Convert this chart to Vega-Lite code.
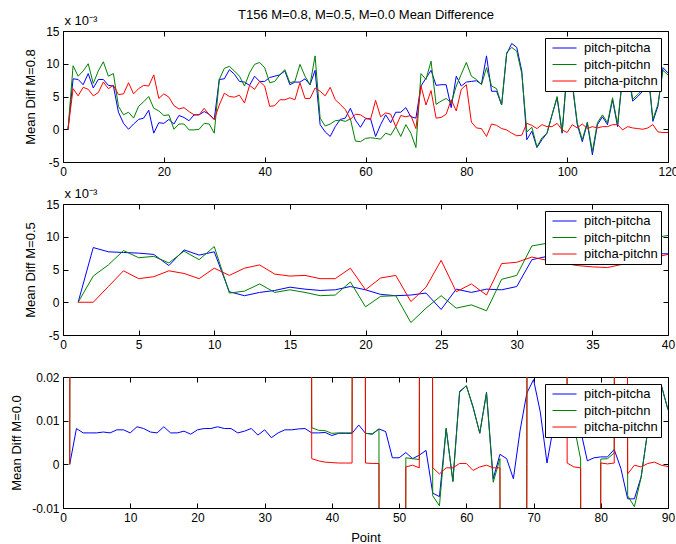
{
"$schema": "https://vega.github.io/schema/vega-lite/v6.json",
"padding": {"left": 10, "top": 8, "right": 0, "bottom": 0},
"config": {
 "font": "Liberation Sans",
 "view": {"stroke": null},
 "axis": {"grid": false, "domainColor": "#000000", "tickColor": "#000000", "labelColor": "#000000", "titleColor": "#000000", "labelFont": "Liberation Sans", "titleFont": "Liberation Sans", "labelFontSize": 12, "titleFontSize": 13, "titleFontWeight": "normal", "tickSize": -5, "labelPadding": 9, "labelFlush": false, "labelOverlap": false, "titlePadding": 8, "domainWidth": 1, "tickWidth": 1},
 "legend": {"orient": "top-right", "offset": 7, "strokeColor": "#000000", "fillColor": "#ffffff", "padding": 3, "symbolType": "stroke", "symbolSize": 576, "symbolStrokeWidth": 1, "symbolOffset": 4, "labelFont": "Liberation Sans", "labelFontSize": 13, "labelColor": "#000000", "labelOffset": 7, "rowPadding": 2.5, "clipHeight": 14}
},
"datasets": {
 "p1": [
{"x":1,"pitch-pitcha":0,"pitch-pitchn":0,"pitcha-pitchn":0},
{"x":2,"pitch-pitcha":7.7,"pitch-pitchn":9.7,"pitcha-pitchn":6.2},
{"x":3,"pitch-pitcha":7.6,"pitch-pitchn":8.1,"pitcha-pitchn":5.1},
{"x":4,"pitch-pitcha":6.8,"pitch-pitchn":8.9,"pitcha-pitchn":6.4},
{"x":5,"pitch-pitcha":8.5,"pitch-pitchn":10.0,"pitcha-pitchn":6.1},
{"x":6,"pitch-pitcha":6.3,"pitch-pitchn":7.0,"pitcha-pitchn":5.1},
{"x":7,"pitch-pitcha":7.6,"pitch-pitchn":8.9,"pitcha-pitchn":5.6},
{"x":8,"pitch-pitcha":7.6,"pitch-pitchn":10.3,"pitcha-pitchn":7.2},
{"x":9,"pitch-pitcha":6.7,"pitch-pitchn":8.1,"pitcha-pitchn":6.2},
{"x":10,"pitch-pitcha":6.6,"pitch-pitchn":8.5,"pitcha-pitchn":6.7},
{"x":11,"pitch-pitcha":2.6,"pitch-pitchn":3.5,"pitcha-pitchn":5.3},
{"x":12,"pitch-pitcha":0.9,"pitch-pitchn":2.2,"pitcha-pitchn":5.4},
{"x":13,"pitch-pitcha":0,"pitch-pitchn":2.6,"pitcha-pitchn":7.1},
{"x":14,"pitch-pitcha":0.8,"pitch-pitchn":1.7,"pitcha-pitchn":5.4},
{"x":15,"pitch-pitcha":1.5,"pitch-pitchn":3.5,"pitcha-pitchn":6.2},
{"x":16,"pitch-pitcha":1.7,"pitch-pitchn":4.2,"pitcha-pitchn":6.7},
{"x":17,"pitch-pitcha":2.9,"pitch-pitchn":5.0,"pitcha-pitchn":6.6},
{"x":18,"pitch-pitcha":-0.6,"pitch-pitchn":3.2,"pitcha-pitchn":8.3},
{"x":19,"pitch-pitcha":1.0,"pitch-pitchn":2.8,"pitcha-pitchn":4.7},
{"x":20,"pitch-pitcha":0.9,"pitch-pitchn":2.1,"pitcha-pitchn":5.4},
{"x":21,"pitch-pitcha":1.5,"pitch-pitchn":2.2,"pitcha-pitchn":4.9},
{"x":22,"pitch-pitcha":0.8,"pitch-pitchn":0,"pitcha-pitchn":3.6},
{"x":23,"pitch-pitcha":2.1,"pitch-pitchn":0.8,"pitcha-pitchn":3.1},
{"x":24,"pitch-pitcha":1.8,"pitch-pitchn":0.8,"pitcha-pitchn":3.3},
{"x":25,"pitch-pitcha":1.3,"pitch-pitchn":-0.1,"pitcha-pitchn":2.7},
{"x":26,"pitch-pitcha":2.2,"pitch-pitchn":-0.1,"pitcha-pitchn":2.2},
{"x":27,"pitch-pitcha":2.2,"pitch-pitchn":0,"pitcha-pitchn":2.2},
{"x":28,"pitch-pitcha":2.7,"pitch-pitchn":0.9,"pitcha-pitchn":3.2},
{"x":29,"pitch-pitcha":2.3,"pitch-pitchn":0.8,"pitcha-pitchn":2.2},
{"x":30,"pitch-pitcha":1.5,"pitch-pitchn":-0.6,"pitcha-pitchn":1.5},
{"x":31,"pitch-pitcha":7.6,"pitch-pitchn":7.6,"pitcha-pitchn":3.7},
{"x":32,"pitch-pitcha":7.7,"pitch-pitchn":9.3,"pitcha-pitchn":5.5},
{"x":33,"pitch-pitcha":9.1,"pitch-pitchn":9.6,"pitcha-pitchn":5.0},
{"x":34,"pitch-pitcha":8.4,"pitch-pitchn":8.9,"pitcha-pitchn":4.9},
{"x":35,"pitch-pitcha":7.3,"pitch-pitchn":8.1,"pitcha-pitchn":5.2},
{"x":36,"pitch-pitcha":7.2,"pitch-pitchn":6.6,"pitcha-pitchn":4.0},
{"x":37,"pitch-pitcha":6.7,"pitch-pitchn":8.6,"pitcha-pitchn":6.7},
{"x":38,"pitch-pitcha":8.1,"pitch-pitchn":9.9,"pitcha-pitchn":6.1},
{"x":39,"pitch-pitcha":7.3,"pitch-pitchn":10.2,"pitcha-pitchn":7.3},
{"x":40,"pitch-pitcha":7.3,"pitch-pitchn":9.4,"pitcha-pitchn":6.6},
{"x":41,"pitch-pitcha":7.9,"pitch-pitchn":7.1,"pitcha-pitchn":3.5},
{"x":42,"pitch-pitcha":8.1,"pitch-pitchn":7.3,"pitcha-pitchn":3.6},
{"x":43,"pitch-pitcha":8.3,"pitch-pitchn":8.3,"pitcha-pitchn":4.5},
{"x":44,"pitch-pitcha":8.9,"pitch-pitchn":9.1,"pitcha-pitchn":4.5},
{"x":45,"pitch-pitcha":6.8,"pitch-pitchn":7.1,"pitcha-pitchn":4.8},
{"x":46,"pitch-pitcha":7.2,"pitch-pitchn":7.3,"pitcha-pitchn":4.5},
{"x":47,"pitch-pitcha":7.2,"pitch-pitchn":9.9,"pitcha-pitchn":7.1},
{"x":48,"pitch-pitcha":7.7,"pitch-pitchn":8.1,"pitcha-pitchn":4.7},
{"x":49,"pitch-pitcha":6.8,"pitch-pitchn":6.8,"pitcha-pitchn":4.7},
{"x":50,"pitch-pitcha":9.0,"pitch-pitchn":11.2,"pitcha-pitchn":6.3},
{"x":51,"pitch-pitcha":0.7,"pitch-pitchn":1.7,"pitcha-pitchn":5.8},
{"x":52,"pitch-pitcha":-0.4,"pitch-pitchn":0.5,"pitcha-pitchn":5.1},
{"x":53,"pitch-pitcha":-1.1,"pitch-pitchn":0.8,"pitcha-pitchn":6.4},
{"x":54,"pitch-pitcha":0.4,"pitch-pitchn":1.3,"pitcha-pitchn":4.5},
{"x":55,"pitch-pitcha":1.5,"pitch-pitchn":1.4,"pitcha-pitchn":3.8},
{"x":56,"pitch-pitcha":1.7,"pitch-pitchn":1.2,"pitcha-pitchn":3.0},
{"x":57,"pitch-pitcha":3.2,"pitch-pitchn":1.6,"pitcha-pitchn":1.5},
{"x":58,"pitch-pitcha":1.4,"pitch-pitchn":-1.8,"pitcha-pitchn":2.3},
{"x":59,"pitch-pitcha":0.3,"pitch-pitchn":-1.9,"pitcha-pitchn":2.2},
{"x":60,"pitch-pitcha":1.6,"pitch-pitchn":-1.4,"pitcha-pitchn":1.7},
{"x":61,"pitch-pitcha":1.6,"pitch-pitchn":-1.3,"pitcha-pitchn":1.5},
{"x":62,"pitch-pitcha":-1.1,"pitch-pitchn":-1.4,"pitcha-pitchn":4.4},
{"x":63,"pitch-pitcha":0.7,"pitch-pitchn":-1.5,"pitcha-pitchn":1.9},
{"x":64,"pitch-pitcha":2.2,"pitch-pitchn":-0.6,"pitcha-pitchn":2.5},
{"x":65,"pitch-pitcha":1.0,"pitch-pitchn":-0.9,"pitcha-pitchn":2.3},
{"x":66,"pitch-pitcha":2.6,"pitch-pitchn":0.4,"pitcha-pitchn":0.4},
{"x":67,"pitch-pitcha":2.6,"pitch-pitchn":-1.1,"pitcha-pitchn":2.1},
{"x":68,"pitch-pitcha":3.3,"pitch-pitchn":0.7,"pitcha-pitchn":1.9},
{"x":69,"pitch-pitcha":1.9,"pitch-pitchn":-0.6,"pitcha-pitchn":2.1},
{"x":70,"pitch-pitcha":1.7,"pitch-pitchn":-2.8,"pitcha-pitchn":0.1},
{"x":71,"pitch-pitcha":6.6,"pitch-pitchn":8.5,"pitcha-pitchn":6.6},
{"x":72,"pitch-pitcha":7.8,"pitch-pitchn":7.6,"pitcha-pitchn":3.7},
{"x":73,"pitch-pitcha":9.0,"pitch-pitchn":10.4,"pitcha-pitchn":5.9},
{"x":74,"pitch-pitcha":6.7,"pitch-pitchn":3.8,"pitcha-pitchn":1.7},
{"x":75,"pitch-pitcha":6.8,"pitch-pitchn":4.3,"pitcha-pitchn":1.8},
{"x":76,"pitch-pitcha":6.8,"pitch-pitchn":4.7,"pitcha-pitchn":2.3},
{"x":77,"pitch-pitcha":3.3,"pitch-pitchn":4.0,"pitcha-pitchn":4.5},
{"x":78,"pitch-pitcha":8.1,"pitch-pitchn":6.6,"pitcha-pitchn":2.8},
{"x":79,"pitch-pitcha":6.6,"pitch-pitchn":8.4,"pitcha-pitchn":6.1},
{"x":80,"pitch-pitcha":7.2,"pitch-pitchn":10.2,"pitcha-pitchn":6.8},
{"x":81,"pitch-pitcha":7.3,"pitch-pitchn":8.1,"pitcha-pitchn":1.1},
{"x":82,"pitch-pitcha":7.4,"pitch-pitchn":7.6,"pitcha-pitchn":0.2},
{"x":83,"pitch-pitcha":6.9,"pitch-pitchn":6.8,"pitcha-pitchn":0.1},
{"x":84,"pitch-pitcha":11.2,"pitch-pitchn":9.4,"pitcha-pitchn":-1.1},
{"x":85,"pitch-pitcha":5.8,"pitch-pitchn":6.6,"pitcha-pitchn":0.8},
{"x":86,"pitch-pitcha":5.8,"pitch-pitchn":6.2,"pitcha-pitchn":0.6},
{"x":87,"pitch-pitcha":3.7,"pitch-pitchn":3.7,"pitcha-pitchn":0.1},
{"x":88,"pitch-pitcha":11.5,"pitch-pitchn":11.7,"pitcha-pitchn":-0.1},
{"x":89,"pitch-pitcha":13.1,"pitch-pitchn":12.5,"pitcha-pitchn":-0.6},
{"x":90,"pitch-pitcha":12.5,"pitch-pitchn":11.9,"pitcha-pitchn":-1.0},
{"x":91,"pitch-pitcha":8.9,"pitch-pitchn":8.5,"pitcha-pitchn":-0.9},
{"x":92,"pitch-pitcha":-1.6,"pitch-pitchn":-0.4,"pitcha-pitchn":0.9},
{"x":93,"pitch-pitcha":-0.3,"pitch-pitchn":0.3,"pitcha-pitchn":0.6},
{"x":94,"pitch-pitcha":-2.8,"pitch-pitchn":-2.7,"pitcha-pitchn":0.1},
{"x":95,"pitch-pitcha":-1.6,"pitch-pitchn":-1.3,"pitcha-pitchn":0.7},
{"x":96,"pitch-pitcha":-0.6,"pitch-pitchn":-0.6,"pitcha-pitchn":0.4},
{"x":97,"pitch-pitcha":2.2,"pitch-pitchn":2.2,"pitcha-pitchn":0.4},
{"x":98,"pitch-pitcha":4.8,"pitch-pitchn":5.0,"pitcha-pitchn":0.9},
{"x":99,"pitch-pitcha":-0.6,"pitch-pitchn":-0.4,"pitcha-pitchn":-0.1},
{"x":100,"pitch-pitcha":9.0,"pitch-pitchn":9.3,"pitcha-pitchn":-0.5},
{"x":101,"pitch-pitcha":7.0,"pitch-pitchn":7.2,"pitcha-pitchn":0.7},
{"x":102,"pitch-pitcha":0.7,"pitch-pitchn":1.0,"pitcha-pitchn":0.2},
{"x":103,"pitch-pitcha":-1.9,"pitch-pitchn":-1.6,"pitcha-pitchn":0.8},
{"x":104,"pitch-pitcha":0.9,"pitch-pitchn":1.1,"pitcha-pitchn":0.1},
{"x":105,"pitch-pitcha":-3.9,"pitch-pitchn":-3.4,"pitcha-pitchn":0.4},
{"x":106,"pitch-pitcha":0.7,"pitch-pitchn":1.0,"pitcha-pitchn":0.2},
{"x":107,"pitch-pitcha":1.9,"pitch-pitchn":2.2,"pitcha-pitchn":0.4},
{"x":108,"pitch-pitcha":0.7,"pitch-pitchn":1.0,"pitcha-pitchn":0.4},
{"x":109,"pitch-pitcha":4.5,"pitch-pitchn":4.8,"pitcha-pitchn":0.7},
{"x":110,"pitch-pitcha":0.4,"pitch-pitchn":0.7,"pitcha-pitchn":0.7},
{"x":111,"pitch-pitcha":8.1,"pitch-pitchn":8.4,"pitcha-pitchn":-0.1},
{"x":112,"pitch-pitcha":9.0,"pitch-pitchn":9.3,"pitcha-pitchn":0.4},
{"x":113,"pitch-pitcha":4.3,"pitch-pitchn":4.6,"pitcha-pitchn":0.2},
{"x":114,"pitch-pitcha":5.0,"pitch-pitchn":5.3,"pitcha-pitchn":0.1},
{"x":115,"pitch-pitcha":5.8,"pitch-pitchn":6.1,"pitcha-pitchn":0},
{"x":116,"pitch-pitcha":9.1,"pitch-pitchn":9.4,"pitcha-pitchn":0.2},
{"x":117,"pitch-pitcha":1.2,"pitch-pitchn":1.5,"pitcha-pitchn":0.7},
{"x":118,"pitch-pitcha":3.5,"pitch-pitchn":3.8,"pitcha-pitchn":-0.4},
{"x":119,"pitch-pitcha":9.4,"pitch-pitchn":9.0,"pitcha-pitchn":-0.5},
{"x":120,"pitch-pitcha":8.6,"pitch-pitchn":8.3,"pitcha-pitchn":-0.5}
 ],
 "p2": [
{"x":1,"pitch-pitcha":0,"pitch-pitchn":0,"pitcha-pitchn":0},
{"x":2,"pitch-pitcha":8.35,"pitch-pitchn":4.0,"pitcha-pitchn":0},
{"x":3,"pitch-pitcha":7.7,"pitch-pitchn":5.7,"pitcha-pitchn":2.4},
{"x":4,"pitch-pitcha":7.6,"pitch-pitchn":7.9,"pitcha-pitchn":4.8},
{"x":5,"pitch-pitcha":7.5,"pitch-pitchn":6.8,"pitcha-pitchn":3.6},
{"x":6,"pitch-pitcha":7.3,"pitch-pitchn":7.0,"pitcha-pitchn":3.9},
{"x":7,"pitch-pitcha":5.6,"pitch-pitchn":6.0,"pitcha-pitchn":4.8},
{"x":8,"pitch-pitcha":8.0,"pitch-pitchn":7.8,"pitcha-pitchn":4.4},
{"x":9,"pitch-pitcha":7.2,"pitch-pitchn":6.5,"pitcha-pitchn":3.6},
{"x":10,"pitch-pitcha":7.7,"pitch-pitchn":8.5,"pitcha-pitchn":5.2},
{"x":11,"pitch-pitcha":1.6,"pitch-pitchn":1.4,"pitcha-pitchn":4.1},
{"x":12,"pitch-pitcha":1.0,"pitch-pitchn":1.7,"pitcha-pitchn":5.2},
{"x":13,"pitch-pitcha":1.5,"pitch-pitchn":2.8,"pitcha-pitchn":5.7},
{"x":14,"pitch-pitcha":1.8,"pitch-pitchn":1.5,"pitcha-pitchn":4.3},
{"x":15,"pitch-pitcha":2.3,"pitch-pitchn":1.9,"pitcha-pitchn":4.0},
{"x":16,"pitch-pitcha":2.0,"pitch-pitchn":1.5,"pitcha-pitchn":4.1},
{"x":17,"pitch-pitcha":1.8,"pitch-pitchn":1.0,"pitcha-pitchn":3.6},
{"x":18,"pitch-pitcha":1.9,"pitch-pitchn":1.1,"pitcha-pitchn":3.6},
{"x":19,"pitch-pitcha":2.4,"pitch-pitchn":3.1,"pitcha-pitchn":5.2},
{"x":20,"pitch-pitcha":1.9,"pitch-pitchn":-0.7,"pitcha-pitchn":1.9},
{"x":21,"pitch-pitcha":1.2,"pitch-pitchn":0.9,"pitcha-pitchn":3.7},
{"x":22,"pitch-pitcha":1.0,"pitch-pitchn":1.0,"pitcha-pitchn":4.1},
{"x":23,"pitch-pitcha":1.1,"pitch-pitchn":-3.1,"pitcha-pitchn":0.1},
{"x":24,"pitch-pitcha":1.4,"pitch-pitchn":-0.9,"pitcha-pitchn":2.3},
{"x":25,"pitch-pitcha":-1.1,"pitch-pitchn":1.0,"pitcha-pitchn":6.4},
{"x":26,"pitch-pitcha":2.0,"pitch-pitchn":-0.9,"pitcha-pitchn":1.6},
{"x":27,"pitch-pitcha":1.5,"pitch-pitchn":-0.4,"pitcha-pitchn":2.8},
{"x":28,"pitch-pitcha":2.0,"pitch-pitchn":-1.3,"pitcha-pitchn":1.1},
{"x":29,"pitch-pitcha":1.9,"pitch-pitchn":3.5,"pitcha-pitchn":5.9},
{"x":30,"pitch-pitcha":2.4,"pitch-pitchn":4.1,"pitcha-pitchn":6.1},
{"x":31,"pitch-pitcha":6.5,"pitch-pitchn":8.6,"pitcha-pitchn":6.9},
{"x":32,"pitch-pitcha":7.0,"pitch-pitchn":9.0,"pitcha-pitchn":6.4},
{"x":33,"pitch-pitcha":7.2,"pitch-pitchn":8.6,"pitcha-pitchn":6.0},
{"x":34,"pitch-pitcha":7.3,"pitch-pitchn":8.4,"pitcha-pitchn":5.6},
{"x":35,"pitch-pitcha":7.3,"pitch-pitchn":8.2,"pitcha-pitchn":5.4},
{"x":36,"pitch-pitcha":7.2,"pitch-pitchn":8.5,"pitcha-pitchn":5.3},
{"x":37,"pitch-pitcha":7.3,"pitch-pitchn":8.8,"pitcha-pitchn":5.8},
{"x":38,"pitch-pitcha":7.3,"pitch-pitchn":9.2,"pitcha-pitchn":6.5},
{"x":39,"pitch-pitcha":7.4,"pitch-pitchn":9.8,"pitcha-pitchn":6.8},
{"x":40,"pitch-pitcha":7.4,"pitch-pitchn":10.2,"pitcha-pitchn":7.3}
 ],
 "p3": [
{"x":1,"pitch-pitcha":0,"pitch-pitchn":0,"pitcha-pitchn":0},
{"x":2,"pitch-pitcha":0.0082,"pitch-pitchn":1,"pitcha-pitchn":1},
{"x":3,"pitch-pitcha":0.0072,"pitch-pitchn":1,"pitcha-pitchn":1},
{"x":4,"pitch-pitcha":0.0072,"pitch-pitchn":1,"pitcha-pitchn":1},
{"x":5,"pitch-pitcha":0.0072,"pitch-pitchn":1,"pitcha-pitchn":1},
{"x":6,"pitch-pitcha":0.0074,"pitch-pitchn":1,"pitcha-pitchn":1},
{"x":7,"pitch-pitcha":0.0072,"pitch-pitchn":1,"pitcha-pitchn":1},
{"x":8,"pitch-pitcha":0.0079,"pitch-pitchn":1,"pitcha-pitchn":1},
{"x":9,"pitch-pitcha":0.0079,"pitch-pitchn":1,"pitcha-pitchn":1},
{"x":10,"pitch-pitcha":0.0072,"pitch-pitchn":1,"pitcha-pitchn":1},
{"x":11,"pitch-pitcha":0.0086,"pitch-pitchn":1,"pitcha-pitchn":1},
{"x":12,"pitch-pitcha":0.0082,"pitch-pitchn":1,"pitcha-pitchn":1},
{"x":13,"pitch-pitcha":0.0074,"pitch-pitchn":1,"pitcha-pitchn":1},
{"x":14,"pitch-pitcha":0.0072,"pitch-pitchn":1,"pitcha-pitchn":1},
{"x":15,"pitch-pitcha":0.0086,"pitch-pitchn":1,"pitcha-pitchn":1},
{"x":16,"pitch-pitcha":0.0072,"pitch-pitchn":1,"pitcha-pitchn":1},
{"x":17,"pitch-pitcha":0.0072,"pitch-pitchn":1,"pitcha-pitchn":1},
{"x":18,"pitch-pitcha":0.0076,"pitch-pitchn":1,"pitcha-pitchn":1},
{"x":19,"pitch-pitcha":0.0069,"pitch-pitchn":1,"pitcha-pitchn":1},
{"x":20,"pitch-pitcha":0.0079,"pitch-pitchn":1,"pitcha-pitchn":1},
{"x":21,"pitch-pitcha":0.0082,"pitch-pitchn":1,"pitcha-pitchn":1},
{"x":22,"pitch-pitcha":0.0082,"pitch-pitchn":1,"pitcha-pitchn":1},
{"x":23,"pitch-pitcha":0.0086,"pitch-pitchn":1,"pitcha-pitchn":1},
{"x":24,"pitch-pitcha":0.0082,"pitch-pitchn":1,"pitcha-pitchn":1},
{"x":25,"pitch-pitcha":0.0082,"pitch-pitchn":1,"pitcha-pitchn":1},
{"x":26,"pitch-pitcha":0.0072,"pitch-pitchn":1,"pitcha-pitchn":1},
{"x":27,"pitch-pitcha":0.0076,"pitch-pitchn":1,"pitcha-pitchn":1},
{"x":28,"pitch-pitcha":0.0082,"pitch-pitchn":1,"pitcha-pitchn":1},
{"x":29,"pitch-pitcha":0.0067,"pitch-pitchn":1,"pitcha-pitchn":1},
{"x":30,"pitch-pitcha":0.0079,"pitch-pitchn":1,"pitcha-pitchn":1},
{"x":31,"pitch-pitcha":0.0061,"pitch-pitchn":1,"pitcha-pitchn":1},
{"x":32,"pitch-pitcha":0.0072,"pitch-pitchn":1,"pitcha-pitchn":1},
{"x":33,"pitch-pitcha":0.0079,"pitch-pitchn":1,"pitcha-pitchn":1},
{"x":34,"pitch-pitcha":0.0079,"pitch-pitchn":1,"pitcha-pitchn":1},
{"x":35,"pitch-pitcha":0.0081,"pitch-pitchn":1,"pitcha-pitchn":1},
{"x":36,"pitch-pitcha":0.0082,"pitch-pitchn":1,"pitcha-pitchn":1},
{"x":37,"pitch-pitcha":0.0072,"pitch-pitchn":0.0084,"pitcha-pitchn":0.0013},
{"x":38,"pitch-pitcha":0.0072,"pitch-pitchn":0.0078,"pitcha-pitchn":0.0008},
{"x":39,"pitch-pitcha":0.0073,"pitch-pitchn":0.0077,"pitcha-pitchn":0.0005},
{"x":40,"pitch-pitcha":0.0066,"pitch-pitchn":0.0071,"pitcha-pitchn":0.0004},
{"x":41,"pitch-pitcha":0.0071,"pitch-pitchn":0.0072,"pitcha-pitchn":0.0003},
{"x":42,"pitch-pitcha":0.0071,"pitch-pitchn":0.0072,"pitcha-pitchn":0.0003},
{"x":43,"pitch-pitcha":0.0071,"pitch-pitchn":0.0072,"pitcha-pitchn":0.0003},
{"x":44,"pitch-pitcha":0.0090,"pitch-pitchn":1,"pitcha-pitchn":1},
{"x":45,"pitch-pitcha":0.0071,"pitch-pitchn":0.0071,"pitcha-pitchn":0.0003},
{"x":46,"pitch-pitcha":0.0069,"pitch-pitchn":0.0070,"pitcha-pitchn":0.0002},
{"x":47,"pitch-pitcha":0.0081,"pitch-pitchn":0.0081,"pitcha-pitchn":0.0002},
{"x":48,"pitch-pitcha":0.0075,"pitch-pitchn":-1,"pitcha-pitchn":-1},
{"x":49,"pitch-pitcha":0.0015,"pitch-pitchn":-1,"pitcha-pitchn":-1},
{"x":50,"pitch-pitcha":0.0015,"pitch-pitchn":-1,"pitcha-pitchn":-1},
{"x":51,"pitch-pitcha":0.0027,"pitch-pitchn":0.0015,"pitcha-pitchn":-0.0006},
{"x":52,"pitch-pitcha":0.0013,"pitch-pitchn":0.0013,"pitcha-pitchn":-0.0002},
{"x":53,"pitch-pitcha":0.0021,"pitch-pitchn":0.0011,"pitcha-pitchn":-0.0008},
{"x":54,"pitch-pitcha":0.0032,"pitch-pitchn":1,"pitcha-pitchn":1},
{"x":55,"pitch-pitcha":-0.0066,"pitch-pitchn":-0.0072,"pitcha-pitchn":-0.0008},
{"x":56,"pitch-pitcha":-0.0074,"pitch-pitchn":-0.0095,"pitcha-pitchn":-0.0022},
{"x":57,"pitch-pitcha":0.0082,"pitch-pitchn":0.0082,"pitcha-pitchn":-0.0008},
{"x":58,"pitch-pitcha":-0.0038,"pitch-pitchn":-0.0040,"pitcha-pitchn":-0.0008},
{"x":59,"pitch-pitcha":0.0167,"pitch-pitchn":0.0165,"pitcha-pitchn":0.0002},
{"x":60,"pitch-pitcha":0.0180,"pitch-pitchn":0.0180,"pitcha-pitchn":0.0002},
{"x":61,"pitch-pitcha":0.0132,"pitch-pitchn":0.0130,"pitcha-pitchn":-0.0014},
{"x":62,"pitch-pitcha":0.0071,"pitch-pitchn":0.0072,"pitcha-pitchn":-0.0006},
{"x":63,"pitch-pitcha":0.0165,"pitch-pitchn":0.0163,"pitcha-pitchn":-0.0002},
{"x":64,"pitch-pitcha":-0.0033,"pitch-pitchn":-0.0041,"pitcha-pitchn":-0.0008},
{"x":65,"pitch-pitcha":0.0023,"pitch-pitchn":0.0013,"pitcha-pitchn":-0.0008},
{"x":66,"pitch-pitcha":0.0013,"pitch-pitchn":-1,"pitcha-pitchn":-1},
{"x":67,"pitch-pitcha":-0.0033,"pitch-pitchn":-1,"pitcha-pitchn":-1},
{"x":68,"pitch-pitcha":0.0078,"pitch-pitchn":-1,"pitcha-pitchn":-1},
{"x":69,"pitch-pitcha":0.0163,"pitch-pitchn":0,"pitcha-pitchn":0},
{"x":70,"pitch-pitcha":0.0194,"pitch-pitchn":1,"pitcha-pitchn":1},
{"x":71,"pitch-pitcha":0.0120,"pitch-pitchn":1,"pitcha-pitchn":1},
{"x":72,"pitch-pitcha":0.0003,"pitch-pitchn":1,"pitcha-pitchn":1},
{"x":73,"pitch-pitcha":0.0090,"pitch-pitchn":1,"pitcha-pitchn":1},
{"x":74,"pitch-pitcha":0.0140,"pitch-pitchn":1,"pitcha-pitchn":1},
{"x":75,"pitch-pitcha":0.0120,"pitch-pitchn":0.0120,"pitcha-pitchn":0.0003},
{"x":76,"pitch-pitcha":0.0090,"pitch-pitchn":0.0090,"pitcha-pitchn":-0.0006},
{"x":77,"pitch-pitcha":0.0078,"pitch-pitchn":0.0012,"pitcha-pitchn":-0.0008},
{"x":78,"pitch-pitcha":0.0008,"pitch-pitchn":-1,"pitcha-pitchn":-1},
{"x":79,"pitch-pitcha":0.0015,"pitch-pitchn":-1,"pitcha-pitchn":-1},
{"x":80,"pitch-pitcha":0.0017,"pitch-pitchn":0.0012,"pitcha-pitchn":0.0003},
{"x":81,"pitch-pitcha":0.0017,"pitch-pitchn":0.0013,"pitcha-pitchn":0.0001},
{"x":82,"pitch-pitcha":0.0034,"pitch-pitchn":0.0026,"pitcha-pitchn":0.0003},
{"x":83,"pitch-pitcha":-0.0010,"pitch-pitchn":1,"pitcha-pitchn":1},
{"x":84,"pitch-pitcha":-0.0079,"pitch-pitchn":-0.0072,"pitcha-pitchn":-0.0022},
{"x":85,"pitch-pitcha":-0.0079,"pitch-pitchn":-0.0097,"pitcha-pitchn":-0.0002},
{"x":86,"pitch-pitcha":-0.0029,"pitch-pitchn":-0.0030,"pitcha-pitchn":-0.0006},
{"x":87,"pitch-pitcha":0.0078,"pitch-pitchn":0.0078,"pitcha-pitchn":0.0002},
{"x":88,"pitch-pitcha":0.0150,"pitch-pitchn":0.0150,"pitcha-pitchn":0.0005},
{"x":89,"pitch-pitcha":0.0182,"pitch-pitchn":0.0180,"pitcha-pitchn":-0.0002},
{"x":90,"pitch-pitcha":0.0125,"pitch-pitchn":0.0125,"pitcha-pitchn":-0.0005}
 ]
},
"vconcat": [
 {
  "width": 605, "height": 131,
  "data": {"name": "p1"},
  "transform": [{"fold": ["pitch-pitcha", "pitch-pitchn", "pitcha-pitchn"], "as": ["series", "value"]}],
  "layer": [
   {
    "mark": {"type": "line", "clip": true, "strokeWidth": 1},
    "encoding": {
     "x": {"field": "x", "type": "quantitative", "scale": {"domain": [0, 120], "nice": false, "zero": false}, "axis": {"orient": "bottom", "values": [0, 20, 40, 60, 80, 100, 120], "title": null}},
     "y": {"field": "value", "type": "quantitative", "scale": {"domain": [-5, 15], "nice": false, "zero": false}, "axis": {"orient": "left", "values": [-5, 0, 5, 10, 15], "title": "Mean Diff M=0.8", "labelExpr": "replace(datum.label, '\u2212', '-')"}},
     "color": {"field": "series", "type": "nominal", "scale": {"domain": ["pitch-pitcha", "pitch-pitchn", "pitcha-pitchn"], "range": ["#0000ff", "#008000", "#ff0000"]}, "legend": {"title": null, "labelExpr": "datum.label + '\u00a0\u00a0\u00a0'"}}
    }
   },
   {
    "mark": {"type": "point", "opacity": 0, "clip": true},
    "encoding": {
     "x": {"field": "x", "type": "quantitative", "scale": {"domain": [0, 120], "nice": false, "zero": false}, "axis": {"orient": "top", "values": [0, 20, 40, 60, 80, 100, 120], "labels": false, "title": "T156 M=0.8, M=0.5, M=0.0 Mean Difference", "titlePadding": 9}},
     "y": {"field": "value", "type": "quantitative", "scale": {"domain": [-5, 15], "nice": false, "zero": false}, "axis": {"orient": "right", "values": [-5, 0, 5, 10, 15], "labels": false, "title": "x 10\u207b\u00b3", "titleAngle": 0, "titleX": -604, "titleY": -7, "titleAlign": "left", "titleBaseline": "alphabetic"}}
    }
   }
  ],
  "resolve": {"axis": {"x": "independent", "y": "independent"}}
 },
 {
  "width": 605, "height": 131,
  "data": {"name": "p2"},
  "transform": [{"fold": ["pitch-pitcha", "pitch-pitchn", "pitcha-pitchn"], "as": ["series", "value"]}],
  "layer": [
   {
    "mark": {"type": "line", "clip": true, "strokeWidth": 1},
    "encoding": {
     "x": {"field": "x", "type": "quantitative", "scale": {"domain": [0, 40], "nice": false, "zero": false}, "axis": {"orient": "bottom", "values": [0, 5, 10, 15, 20, 25, 30, 35, 40], "title": null}},
     "y": {"field": "value", "type": "quantitative", "scale": {"domain": [-5, 15], "nice": false, "zero": false}, "axis": {"orient": "left", "values": [-5, 0, 5, 10, 15], "title": "Mean Diff M=0.5", "labelExpr": "replace(datum.label, '\u2212', '-')"}},
     "color": {"field": "series", "type": "nominal", "scale": {"domain": ["pitch-pitcha", "pitch-pitchn", "pitcha-pitchn"], "range": ["#0000ff", "#008000", "#ff0000"]}, "legend": {"title": null, "labelExpr": "datum.label + '\u00a0\u00a0\u00a0'"}}
    }
   },
   {
    "mark": {"type": "point", "opacity": 0, "clip": true},
    "encoding": {
     "x": {"field": "x", "type": "quantitative", "scale": {"domain": [0, 40], "nice": false, "zero": false}, "axis": {"orient": "top", "values": [0, 5, 10, 15, 20, 25, 30, 35, 40], "labels": false, "title": null}},
     "y": {"field": "value", "type": "quantitative", "scale": {"domain": [-5, 15], "nice": false, "zero": false}, "axis": {"orient": "right", "values": [-5, 0, 5, 10, 15], "labels": false, "title": "x 10\u207b\u00b3", "titleAngle": 0, "titleX": -604, "titleY": -7, "titleAlign": "left", "titleBaseline": "alphabetic"}}
    }
   }
  ],
  "resolve": {"axis": {"x": "independent", "y": "independent"}}
 },
 {
  "width": 605, "height": 131,
  "data": {"name": "p3"},
  "transform": [{"fold": ["pitch-pitcha", "pitch-pitchn", "pitcha-pitchn"], "as": ["series", "value"]}],
  "layer": [
   {
    "mark": {"type": "line", "clip": true, "strokeWidth": 1},
    "encoding": {
     "x": {"field": "x", "type": "quantitative", "scale": {"domain": [0, 90], "nice": false, "zero": false}, "axis": {"orient": "bottom", "values": [0, 10, 20, 30, 40, 50, 60, 70, 80, 90], "title": "Point", "titlePadding": 8}},
     "y": {"field": "value", "type": "quantitative", "scale": {"domain": [-0.01, 0.02], "nice": false, "zero": false}, "axis": {"orient": "left", "values": [-0.01, 0, 0.01, 0.02], "title": "Mean Diff M=0.0", "labelExpr": "datum.value == 0 ? '0' : replace(format(datum.value, '.2f'), '\u2212', '-')"}},
     "color": {"field": "series", "type": "nominal", "scale": {"domain": ["pitch-pitcha", "pitch-pitchn", "pitcha-pitchn"], "range": ["#0000ff", "#008000", "#ff0000"]}, "legend": {"title": null, "labelExpr": "datum.label + '\u00a0\u00a0\u00a0'"}}
    }
   },
   {
    "mark": {"type": "point", "opacity": 0, "clip": true},
    "encoding": {
     "x": {"field": "x", "type": "quantitative", "scale": {"domain": [0, 90], "nice": false, "zero": false}, "axis": {"orient": "top", "values": [0, 10, 20, 30, 40, 50, 60, 70, 80, 90], "labels": false, "title": null}},
     "y": {"field": "value", "type": "quantitative", "scale": {"domain": [-0.01, 0.02], "nice": false, "zero": false}, "axis": {"orient": "right", "values": [-0.01, 0, 0.01, 0.02], "labels": false, "title": null}}
    }
   }
  ],
  "resolve": {"axis": {"x": "independent", "y": "independent"}}
 }
],
"spacing": 42,
"bounds": "flush",
"resolve": {"scale": {"x": "independent", "y": "independent", "color": "independent"}, "legend": {"color": "independent"}}
}
